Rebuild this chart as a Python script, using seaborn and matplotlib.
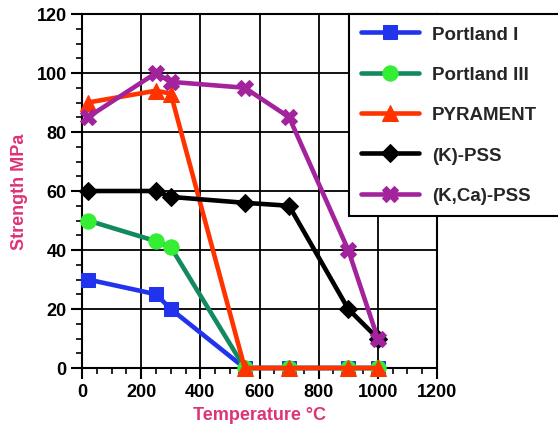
import matplotlib
matplotlib.use("Agg")
import matplotlib.pyplot as plt
import seaborn as sns
import numpy as np
from matplotlib.ticker import MultipleLocator

temperature = [20, 250, 300, 550, 700, 900, 1000]
portland_1 = [30, 25, 20, 0, 0, 0, 0]
portland_3 = [50, 43, 41, 0, 0, 0, 0]
pyrament = [90, 94, 93, 0, 0, 0, 0]
k_pss = [60, 60, 58, 56, 55, 20, 10]
kca_pss = [85, 100, 97, 95, 85, 40, 10]

series_names = ["Portland I", "Portland III", "PYRAMENT", "(K)-PSS", "(K,Ca)-PSS"]
series_values = [portland_1, portland_3, pyrament, k_pss, kca_pss]

styles = [
    dict(color="#2233ee", marker="s", markerfacecolor="#2233ee", markeredgecolor="#2233ee", markersize=10),
    dict(color="#138a5e", marker="o", markerfacecolor="#33ee33", markeredgecolor="#33ee33", markersize=11),
    dict(color="#ff3300", marker="^", markerfacecolor="#ff3300", markeredgecolor="#ff3300", markersize=11),
    dict(color="#000000", marker="D", markerfacecolor="#000000", markeredgecolor="#000000", markersize=9),
    dict(color="#a2239c", marker="X", markerfacecolor="#a2239c", markeredgecolor="#a2239c", markersize=11),
]

sns.set_theme(style="white")
plt.rcParams["font.family"] = ["Liberation Sans", "DejaVu Sans"]
plt.rcParams["font.weight"] = "bold"

fig = plt.figure(figsize=(5.58, 4.27), dpi=100)
ax = fig.add_axes([82/558, 1-369/427, (437-82)/558, (369-15)/427])

for i, (name, vals, st) in enumerate(zip(series_names, series_values, styles)):
    sns.lineplot(x=temperature, y=vals, ax=ax, label=name, linewidth=3.3,
                 clip_on=False, zorder=3 + i, **st)

ax.set_xlim(0, 1200)
ax.set_ylim(0, 120)
ax.xaxis.set_major_locator(MultipleLocator(200))
ax.xaxis.set_minor_locator(MultipleLocator(50))
ax.yaxis.set_major_locator(MultipleLocator(20))
ax.yaxis.set_minor_locator(MultipleLocator(5))
ax.grid(True, which="major", color="black", linewidth=1.3)
ax.set_axisbelow(True)
for s in ax.spines.values():
    s.set_color("black")
    s.set_linewidth(1.5)
ax.tick_params(axis="both", which="major", direction="out", length=8, width=1.5,
               labelsize=13, colors="black", pad=3, bottom=True, left=True)
ax.tick_params(axis="both", which="minor", direction="out", length=4, width=1.2,
               colors="black", bottom=True, left=True)
for lab in ax.get_xticklabels() + ax.get_yticklabels():
    lab.set_fontweight("bold")

ax.set_xlabel("Temperature °C", color="#dd3377", fontsize=13, fontweight="bold", labelpad=4)
ax.set_ylabel("Strength MPa", color="#dd3377", fontsize=13, fontweight="bold", labelpad=6)

x0 = 349/558
y1 = 1 - 15/427
leg = ax.legend(loc="upper left", bbox_to_anchor=(x0, y1 - 0.5, 575/558 - x0, 0.5),
                bbox_transform=fig.transFigure, mode="expand",
                frameon=True, fancybox=False, edgecolor="black", framealpha=1,
                fontsize=13.5, handlelength=3.1, handletextpad=0.7, labelspacing=1.24,
                borderpad=0.62, borderaxespad=0)
leg.get_frame().set_linewidth(1.5)
leg.set_zorder(20)
for t in leg.get_texts():
    t.set_fontweight("bold")

fig.savefig("out.png", dpi=100)
